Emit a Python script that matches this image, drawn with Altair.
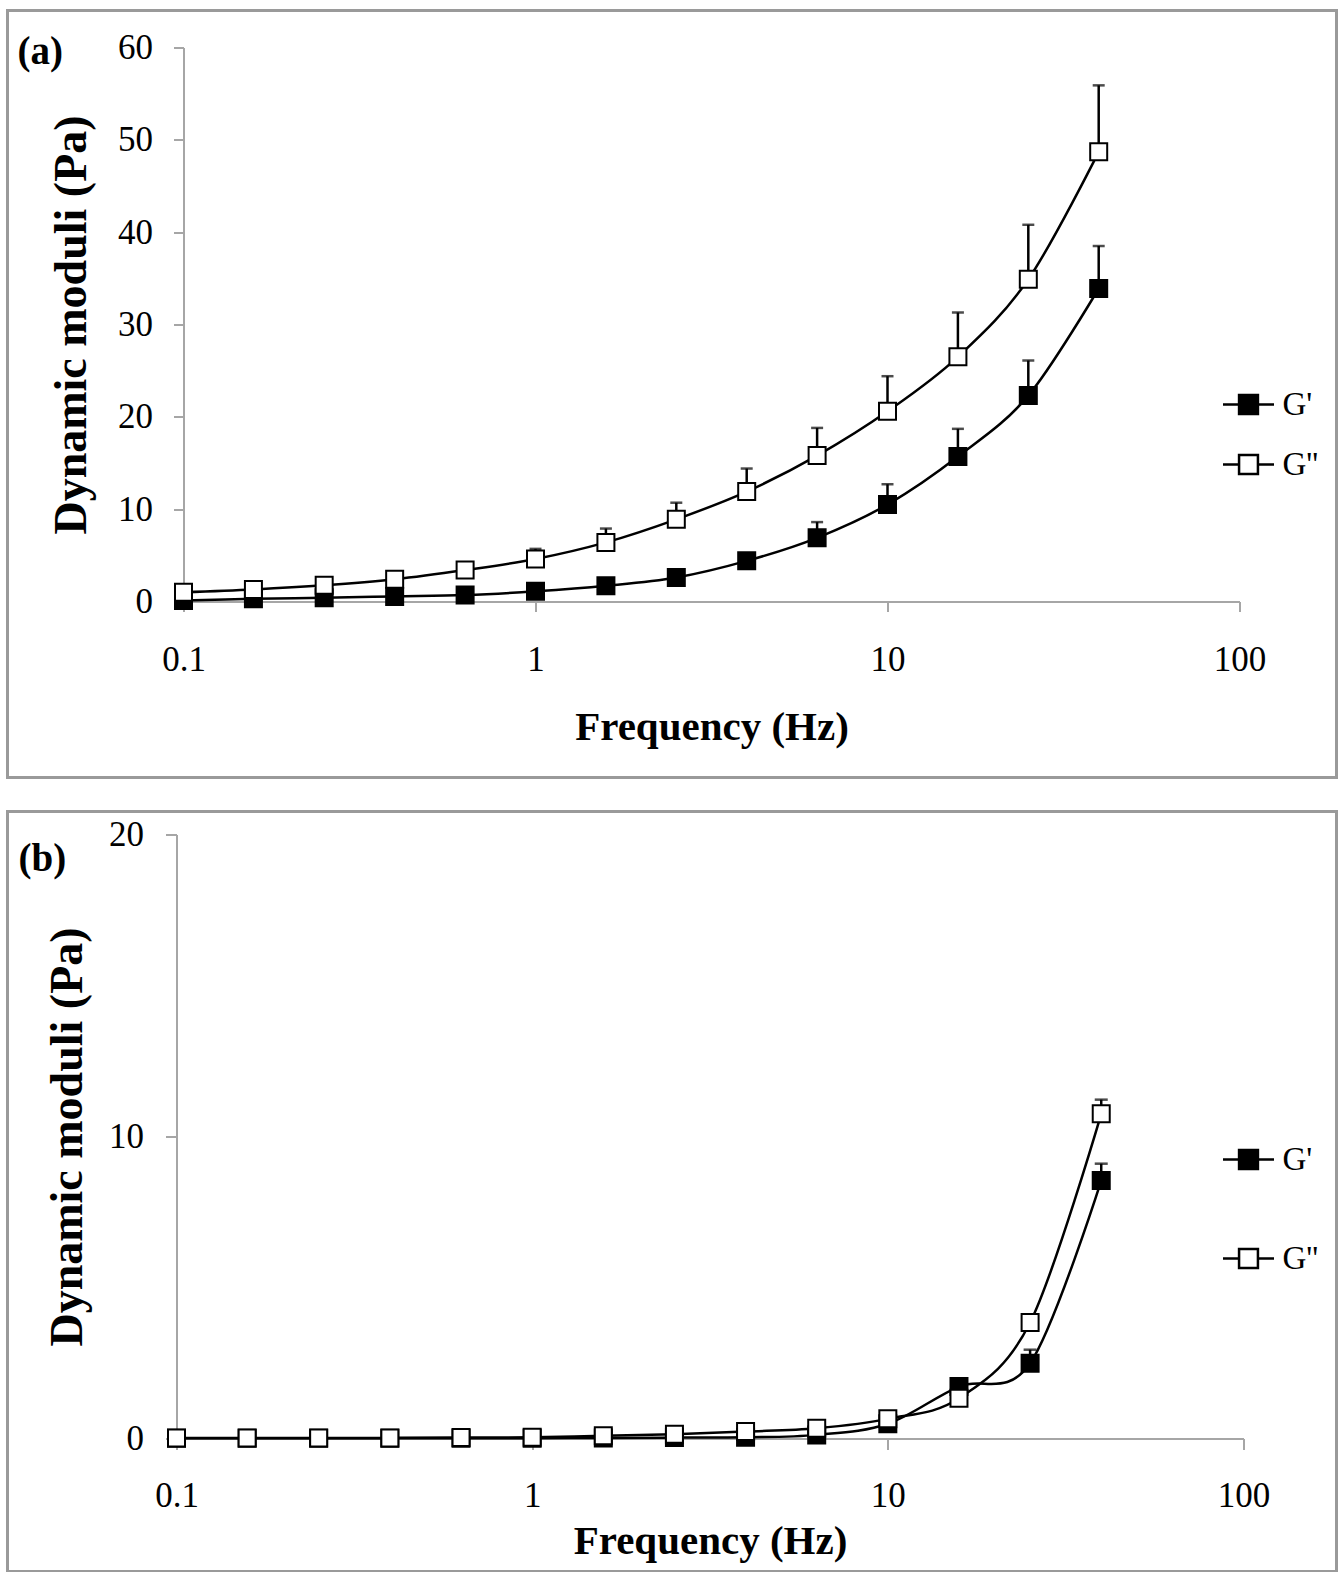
import altair as alt
import pandas as pd

# ---------------- data ----------------
freq = [0.1, 0.158, 0.251, 0.398, 0.631, 1.0, 1.585, 2.512, 3.981, 6.31, 10.0, 15.85, 25.12, 39.81]
series_names = ["G'", "G''"]

# panel (a)
a_g1 = [0.1, 0.3, 0.4, 0.55, 0.7, 1.1, 1.7, 2.6, 4.4, 6.9, 10.5, 15.7, 22.3, 33.9]
a_g1_err = [0, 0, 0, 0, 0, 0.1, 0.2, 0.4, 0.8, 1.7, 2.2, 3.0, 3.8, 4.6]
a_g2 = [1.0, 1.3, 1.75, 2.4, 3.4, 4.6, 6.4, 8.9, 11.9, 15.8, 20.6, 26.5, 34.9, 48.7]
a_g2_err = [0.1, 0.1, 0.2, 0.2, 0.3, 1.1, 1.5, 1.8, 2.5, 3.0, 3.8, 4.8, 5.9, 7.2]

# panel (b)
b_g1 = [0.01, 0.01, 0.01, 0.01, 0.01, 0.01, 0.02, 0.03, 0.04, 0.12, 0.49, 1.72, 2.49, 8.54]
b_g1_err = [0, 0, 0, 0, 0, 0, 0, 0, 0, 0, 0, 0.05, 0.45, 0.56]
b_g2 = [0.02, 0.02, 0.02, 0.02, 0.03, 0.04, 0.09, 0.14, 0.23, 0.34, 0.65, 1.33, 3.84, 10.75]
b_g2_err = [0, 0, 0, 0, 0, 0, 0, 0, 0, 0, 0, 0, 0.05, 0.47]

x_ticks = [0.1, 1, 10, 100]
a_y_ticks = [0, 10, 20, 30, 40, 50, 60]
b_y_ticks = [0, 10, 20]

SERIF = "Liberation Serif"
GRAY = "#a6a6a6"
BOX = "#9a9a9a"
LEGEND_SYMBOL = "M-1,0H-0.37M0.37,0H1M-0.37,-0.37H0.37V0.37H-0.37Z"


def make_df(g1, g1e, g2, g2e):
    rows = []
    for name, vals, errs in ((series_names[0], g1, g1e), (series_names[1], g2, g2e)):
        for f, v, e in zip(freq, vals, errs):
            rows.append({"freq": f, "value": v, "upper": v + e, "err": e, "series": name})
    return pd.DataFrame(rows)


def panel(df, label, ymax, yticks, w, h, xrange, yoffset, box, label_pos, legend_xy, row_pad,
          y_title_pad, y_label_pad, tick_size, x_label_pad, x_title_pad, cap):
    xenc = alt.X(
        "freq:Q",
        scale=alt.Scale(type="log", domain=[0.1, 100], nice=False, range=xrange),
        axis=alt.Axis(values=x_ticks, format="~g", title="Frequency (Hz)",
                      tickSize=tick_size, labelPadding=x_label_pad, titlePadding=x_title_pad,
                      titleFontSize=41, labelFlush=False, labelOverlap=False, grid=False),
    )
    yaxis = alt.Axis(values=yticks, title="Dynamic moduli (Pa)", tickSize=tick_size,
                     labelPadding=y_label_pad, titlePadding=y_title_pad, titleFontSize=46,
                     labelFlush=False, labelOverlap=False, grid=False, offset=yoffset)
    yscale = alt.Scale(domain=[0, ymax], nice=False, zero=True)
    yenc = alt.Y("value:Q", scale=yscale, axis=yaxis)

    base = alt.Chart(df)
    dummy = alt.Chart(pd.DataFrame({"k": [0]}))

    border = dummy.mark_rect(fillOpacity=0, stroke=BOX, strokeWidth=3).encode(
        x=alt.value(box[0]), x2=alt.value(box[1]), y=alt.value(box[2]), y2=alt.value(box[3])
    )
    rules = base.transform_filter("datum.err > 0").mark_rule(color="black", strokeWidth=2.5).encode(
        x=xenc, y=yenc, y2="upper:Q"
    )
    caps = base.transform_filter("datum.err > 0").mark_tick(
        orient="horizontal", size=cap, thickness=2.5, color="black"
    ).encode(x=xenc, y=alt.Y("upper:Q", scale=yscale, axis=yaxis))
    lines = base.mark_line(interpolate="cardinal", color="black", strokeWidth=2.5).encode(
        x=xenc, y=yenc, detail="series:N"
    )
    points = base.mark_square(size=289, stroke="black", strokeWidth=2, opacity=1, fillOpacity=1).encode(
        x=xenc,
        y=yenc,
        fill=alt.Fill(
            "series:N",
            scale=alt.Scale(domain=series_names, range=["black", "white"]),
            legend=alt.Legend(
                title=None, orient="none", legendX=legend_xy[0], legendY=legend_xy[1],
                symbolType=LEGEND_SYMBOL, symbolSize=2601, symbolStrokeColor="black",
                symbolStrokeWidth=2.5, labelFont=SERIF, labelFontSize=33, labelColor="black",
                labelOffset=7, rowPadding=row_pad, padding=0,
            ),
        ),
    )
    text = dummy.mark_text(
        text=label, font=SERIF, fontSize=39, fontWeight="bold", align="left",
        baseline="middle", color="black"
    ).encode(x=alt.value(label_pos[0]), y=alt.value(label_pos[1]))

    return alt.layer(border, rules, caps, lines, points, text).properties(width=w, height=h)


pa = panel(make_df(a_g1, a_g1_err, a_g2, a_g2_err), "(a)", 60, a_y_ticks, 1056, 554,
           xrange=[0, 1056], yoffset=0,
           box=(-176, 1153, -37, 730), label_pos=(-166, 4), legend_xy=(1038, 330), row_pad=16,
           y_title_pad=22, y_label_pad=21, tick_size=10, x_label_pad=31, x_title_pad=30, cap=12)
pb = panel(make_df(b_g1, b_g1_err, b_g2, b_g2_err), "(b)", 20, b_y_ticks, 1060, 604,
           xrange=[-7, 1060], yoffset=7,
           box=(-176, 1153, -23, 737), label_pos=(-165, 24), legend_xy=(1038, 298), row_pad=55,
           y_title_pad=17, y_label_pad=22, tick_size=11, x_label_pad=29, x_title_pad=8, cap=13)

chart = alt.vconcat(pa, pb, spacing=30).resolve_scale(
    fill="independent", x="independent", y="independent"
).resolve_legend(fill="independent").properties(
    padding={"left": 5.5, "top": 8.5, "right": 0, "bottom": 0}
).configure_view(strokeWidth=0).configure_axis(
    domainColor=GRAY, domainWidth=2, tickColor=GRAY, tickWidth=2,
    labelFont=SERIF, labelFontSize=35, labelColor="black",
    titleFont=SERIF, titleFontWeight="bold", titleColor="black",
)

chart.save("out.html", embed_options={"renderer": "svg", "actions": False})
